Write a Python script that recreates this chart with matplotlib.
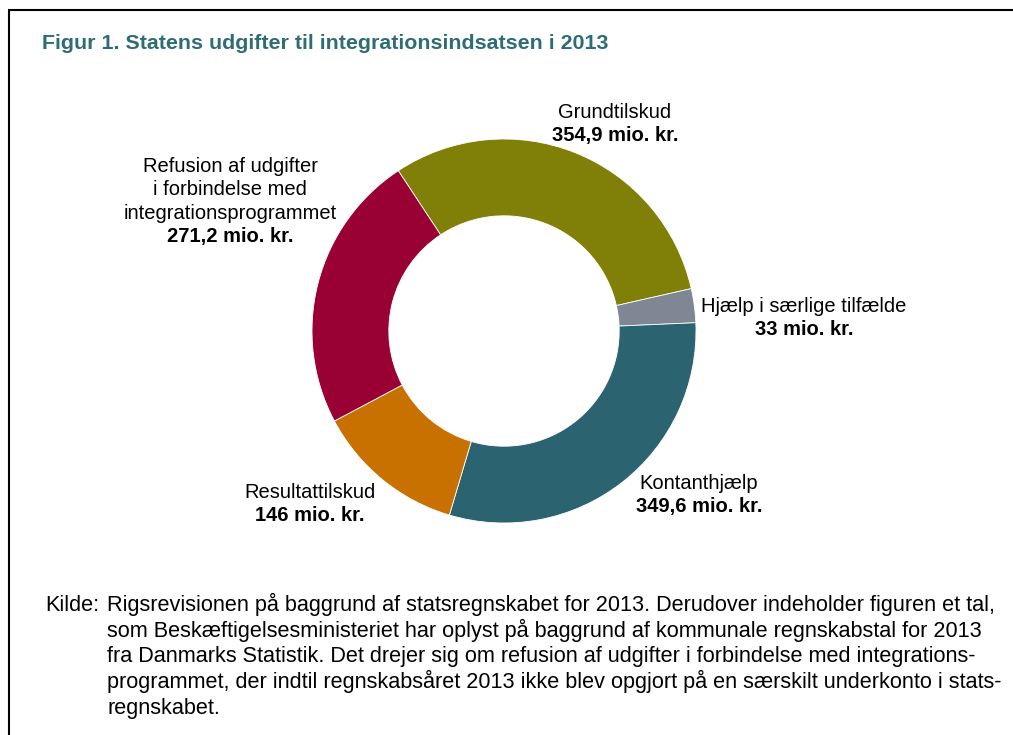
import matplotlib
matplotlib.use("Agg")
import matplotlib.pyplot as plt

plt.rcParams["font.family"] = ["Liberation Sans", "DejaVu Sans"]

# data (mio. kr.), clockwise from the Refusion/Grundtilskud border
names  = [["Grundtilskud"], ["Hjælp i særlige tilfælde"], ["Kontanthjælp"], ["Resultattilskud"],
          ["Refusion af udgifter", "i forbindelse med", "integrationsprogrammet"]]
values = [354.9, 33.0, 349.6, 146.0, 271.2]
amount = ["354,9 mio. kr.", "33 mio. kr.", "349,6 mio. kr.", "146 mio. kr.", "271,2 mio. kr."]
colors = ["#808008", "#7f8795", "#2b6470", "#c87000", "#990033"]

# label anchors in pixels: centre x, baseline of first line
lab_xy = [(615, 118), (804, 312), (699, 489), (310, 498), (230, 172)]

W, H = 1013, 735
fig = plt.figure(figsize=(W/100, H/100), dpi=100)
ax = fig.add_axes([0, 0, 1, 1])

cx, cy, R = 504, 331, 192
ax.pie(values, colors=colors, startangle=123.4, counterclock=False, radius=R,
       center=(cx, H-cy), wedgeprops=dict(width=R*0.4, edgecolor="white", linewidth=0.6))
ax.set_xlim(0, W); ax.set_ylim(0, H); ax.axis("off")

LS = 23.3
for name, amt, (x, y) in zip(names, amount, lab_xy):
    lines = name + [amt]
    for i, s in enumerate(lines):
        ax.text(x, H-y-i*LS, s, ha="center", va="baseline", fontsize=14.5,
                fontweight="bold" if i == len(lines)-1 else "normal")

# frame
ax.plot([8, W], [H-10.3, H-10.3], color="black", lw=1.5, solid_capstyle="butt")
ax.plot([9.3, 9.3], [H-10.3, 0], color="black", lw=1.5, solid_capstyle="butt")

ax.text(42, H-49, "Figur 1. Statens udgifter til integrationsindsatsen i 2013",
        fontsize=15.4, fontweight="bold", color="#2e6c76", va="baseline")

src = ["Rigsrevisionen på baggrund af statsregnskabet for 2013. Derudover indeholder figuren et tal,",
       "som Beskæftigelsesministeriet har oplyst på baggrund af kommunale regnskabstal for 2013",
       "fra Danmarks Statistik. Det drejer sig om refusion af udgifter i forbindelse med integrations-",
       "programmet, der indtil regnskabsåret 2013 ikke blev opgjort på en særskilt underkonto i stats-",
       "regnskabet."]
ax.text(45, H-611, "Kilde:", fontsize=15.6, va="baseline")
for i, line in enumerate(src):
    ax.text(107, H-611-i*25.7, line, fontsize=15.6, va="baseline")

fig.savefig("out.png", dpi=100)
